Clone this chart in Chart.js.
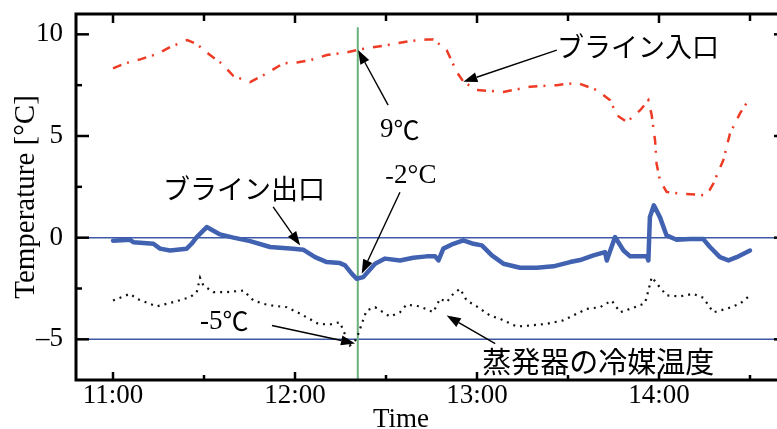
<!DOCTYPE html>
<html>
<head>
<meta charset="utf-8">
<script src="https://cdn.jsdelivr.net/npm/chart.js@4.4.1/dist/chart.umd.min.js"></script>
<style>
  html, body { margin: 0; padding: 0; background: #fff; overflow: hidden; }
  #wrap { width: 790px; height: 429px; }
</style>
</head>
<body>
<div id="wrap"><canvas id="chart" width="790" height="429"></canvas></div>
<script>
// time axis is minutes after 11:00
const inletTime = [0, 4, 9, 15, 19, 24.5, 27.6, 32, 35.8, 39.7, 45.2, 50.7, 56.1, 60.6, 65, 70.5, 77, 81.4, 89.1, 97.9,
    103.4, 105.6, 110, 113.3, 115.5, 119.9, 128.7, 137.5, 146.3, 152.9, 159.5, 163.9, 166.1, 169.4, 173.8, 176.5,
    177.6, 178.7, 179.2, 180.3, 182.5, 186.9, 195.7, 197.9, 201.2, 203.4, 206.7, 209.5];
const inletTemp = [8.33, 8.57, 8.77, 9.06, 9.39, 9.72, 9.52, 8.98, 8.57, 7.95, 7.65, 8.08, 8.57, 8.62, 8.73, 8.98, 9.11, 9.26, 9.44, 9.67,
    9.75, 9.75, 9.23, 8.16, 7.67, 7.26, 7.17, 7.42, 7.5, 7.62, 7.26, 6.76, 6.02, 5.69, 6.27, 6.76,
    6.02, 4.79, 3.64, 2.82, 2.25, 2.17, 2.08, 2.66, 3.81, 5.12, 6.11, 6.76];

const outletTime = [0, 5.6, 6.7, 13.3, 15.5, 18.8, 24.3, 25.9, 27.6, 30.9, 35.3, 39.7, 45.2, 51.8, 59.4, 62.7, 66.6, 70.5,
    74.8, 76.5, 78.7, 80.3, 82.5, 86.4, 89.7, 94.6, 99, 103.4, 106.2, 107.3, 108.9, 112.2, 115.5, 118.8, 121.6, 124.9,
    128.7, 134.2, 139.7, 145.2, 150.7, 154, 158.4, 162.2, 162.8, 165.5, 168.3, 170.5, 176, 176.5, 177, 178.3, 180.3,
    182.5, 185.8, 190.2, 194.6, 196.8, 200.1, 202.9, 205.6, 210];
const outletTemp = [-0.15, -0.1, -0.22, -0.3, -0.54, -0.63, -0.54, -0.3, 0.03, 0.52, 0.16, 0.0, -0.17, -0.46, -0.54, -0.59, -0.96, -1.2,
    -1.25, -1.36, -1.77, -2.02, -1.94, -1.28, -1.03, -1.12, -0.99, -0.92, -0.92, -1.12, -0.54, -0.3, -0.13, -0.3, -0.38, -0.87,
    -1.28, -1.48, -1.48, -1.41, -1.2, -1.1, -0.87, -0.71, -1.12, 0.03, -0.63, -0.92, -0.92, -1.12, 1.01, 1.59, 1.01,
    0.11, -0.1, -0.07, -0.07, -0.46, -0.96, -1.12, -0.96, -0.63];

const evapTime = [0, 5.6, 7.8, 14.3, 19.9, 25.4, 27.6, 28.7, 29.8, 33.1, 37.5, 43, 46.3, 49.6, 51.8, 57.3, 61.7, 67.7, 71.5,
    74.8, 76.4, 78.1, 80.3, 82, 83.6, 86.4, 91.3, 94.6, 96.8, 101.2, 105.6, 107.8, 110, 112.2, 114.4, 116.6, 119.9, 124.3,
    127.6, 133.1, 137.5, 142.9, 148.4, 152.9, 156.2, 160.6, 164.4, 167.2, 171.5, 175.4, 176.5, 177.6, 179.8, 182.5,
    186.9, 191.3, 194.6, 197.9, 202.3, 206.7, 210];
const evapTemp = [-3.09, -2.76, -3.0, -3.38, -3.17, -2.93, -2.68, -1.97, -2.35, -2.68, -2.68, -2.6, -3.09, -3.25, -3.33, -3.42, -3.74, -4.24, -4.27,
    -4.16, -4.73, -5.3, -4.98, -4.24, -3.58, -3.42, -3.88, -3.67, -3.29, -3.38, -3.67, -3.0, -3.17, -2.76, -2.51, -3.09, -3.38, -3.83,
    -3.99, -4.37, -4.32, -4.24, -4.07, -3.74, -3.5, -3.42, -3.09, -3.67, -3.45, -3.22, -2.6, -1.94, -2.35, -2.84,
    -2.89, -2.76, -2.96, -3.67, -3.5, -3.25, -2.84];

const xTickMinutes = [0, 60, 120, 180];
const xTickLabels = ['11:00', '12:00', '13:00', '14:00'];
const xMinorMinutes = [30, 90, 150, 210];
const yTickValues = [-5, 0, 5, 10];
const yMinorValues = [-2.5, 2.5, 7.5];
const refLevels = [0, -5];   // blue reference lines
const markerMinute = 80.7;   // green line, about 12:21
const markerTop = 10.35;

// labels with arrows, all in data units (minutes, degC)
const notes = [
    { parts: [['ブライン入口', 'jp']], at: [146.4, 9.37], tail: [146.3, 9.22], head: [115.5, 7.67] },
    { parts: [['ブライン出口', 'jp']], at: [16.5, 2.43], tail: [52.8, 1.51], head: [61.7, -0.38] },
    { parts: [['9', 'serif'], ['℃', 'sans']], at: [88, 5.29], tail: [90.7, 6.52], head: [80.8, 9.23] },
    { parts: [['-', 'sans'], ['2°C', 'serif']], at: [89.7, 3.06], tail: [94.6, 2.23], head: [82, -1.77] },
    { parts: [['-5', 'serif'], ['℃', 'sans']], at: [28.7, -4.12], tail: [52.4, -4.32], head: [79.8, -5.2] },
    { parts: [['蒸発器の冷媒温度', 'jp2']], at: [121.7, -6.09], tail: [126, -5.21], head: [110, -3.83] }
];

const SERIF = "'Liberation Serif', 'Times New Roman', serif";
const fonts = {
    jp: "27px 'Noto Sans CJK JP', sans-serif",
    jp2: "29px 'Noto Sans CJK JP', sans-serif",
    serif: "27px " + SERIF,
    sans: "26px 'Noto Sans CJK JP', sans-serif"
};

function toPoints(ts, vs) {
    return ts.map((t, i) => ({ x: t, y: vs[i] }));
}

function drawArrow(ctx, x1, y1, x2, y2) {
    const ang = Math.atan2(y2 - y1, x2 - x1);
    const len = 14, half = 5;
    const bx = x2 - len * Math.cos(ang), by = y2 - len * Math.sin(ang);
    ctx.beginPath();
    ctx.moveTo(x1, y1);
    ctx.lineTo(bx, by);
    ctx.stroke();
    ctx.beginPath();
    ctx.moveTo(x2, y2);
    ctx.lineTo(bx + half * Math.sin(ang), by - half * Math.cos(ang));
    ctx.lineTo(bx - half * Math.sin(ang), by + half * Math.cos(ang));
    ctx.closePath();
    ctx.fill();
}

const decor = {
    id: 'decor',
    beforeDatasetsDraw(chart) {
        const { ctx, chartArea: a, scales: { x, y } } = chart;
        ctx.save();
        ctx.strokeStyle = '#3e58a8';
        ctx.lineWidth = 1.5;
        refLevels.forEach(v => {
            const py = y.getPixelForValue(v);
            ctx.beginPath();
            ctx.moveTo(a.left, py);
            ctx.lineTo(a.right, py);
            ctx.stroke();
        });
        const gx = x.getPixelForValue(markerMinute);
        ctx.strokeStyle = '#6bb07c';
        ctx.lineWidth = 2;
        ctx.beginPath();
        ctx.moveTo(gx, y.getPixelForValue(markerTop));
        ctx.lineTo(gx, a.bottom);
        ctx.stroke();
        ctx.restore();
    },
    afterDatasetsDraw(chart) {
        const { ctx, chartArea: a, scales: { x, y } } = chart;
        ctx.save();
        ctx.strokeStyle = '#000';
        ctx.fillStyle = '#000';

        // frame
        ctx.lineWidth = 3;
        ctx.strokeRect(a.left, a.top, a.right - a.left, a.bottom - a.top);

        // inward ticks
        ctx.lineWidth = 2.5;
        const tick = (x1, y1, x2, y2) => { ctx.beginPath(); ctx.moveTo(x1, y1); ctx.lineTo(x2, y2); ctx.stroke(); };
        yTickValues.forEach(v => {
            const py = y.getPixelForValue(v);
            tick(a.left, py, a.left + 13, py);
            tick(a.right, py, a.right - 13, py);
        });
        yMinorValues.forEach(v => {
            const py = y.getPixelForValue(v);
            tick(a.left, py, a.left + 6, py);
            tick(a.right, py, a.right - 6, py);
        });
        xTickMinutes.forEach(m => {
            const px = x.getPixelForValue(m);
            tick(px, a.bottom, px, a.bottom - 8);
            tick(px, a.top, px, a.top + 9);
        });
        xMinorMinutes.forEach(m => {
            const px = x.getPixelForValue(m);
            tick(px, a.bottom, px, a.bottom - 5);
            tick(px, a.top, px, a.top + 7);
        });

        // annotations
        ctx.lineWidth = 1.4;
        ctx.textBaseline = 'middle';
        ctx.textAlign = 'left';
        notes.forEach(n => {
            drawArrow(ctx, x.getPixelForValue(n.tail[0]), y.getPixelForValue(n.tail[1]),
                x.getPixelForValue(n.head[0]), y.getPixelForValue(n.head[1]));
            let px = x.getPixelForValue(n.at[0]);
            const py = y.getPixelForValue(n.at[1]);
            n.parts.forEach(([text, f]) => {
                ctx.font = fonts[f];
                ctx.fillText(text, px, py);
                px += ctx.measureText(text).width;
            });
        });

        // x axis title
        ctx.font = '27px ' + SERIF;
        ctx.textAlign = 'center';
        ctx.fillText('Time', 401, 420);
        ctx.restore();
    }
};

new Chart(document.getElementById('chart'), {
    type: 'line',
    data: {
        datasets: [
            {
                label: 'ブライン出口',
                data: toPoints(outletTime, outletTemp),
                borderColor: '#4161b1',
                borderWidth: 4.5,
                borderJoinStyle: 'round',
                borderCapStyle: 'round',
                pointRadius: 0,
                order: 1
            },
            {
                label: 'ブライン入口',
                data: toPoints(inletTime, inletTemp),
                borderColor: '#ee3b25',
                borderWidth: 2.5,
                borderDash: [9, 6, 2, 9],
                pointRadius: 0,
                order: 2
            },
            {
                label: '蒸発器の冷媒温度',
                data: toPoints(evapTime, evapTemp),
                borderColor: '#111',
                borderWidth: 2.2,
                borderDash: [2, 5],
                pointRadius: 0,
                order: 3
            }
        ]
    },
    options: {
        responsive: false,
        animation: false,
        devicePixelRatio: 1,
        layout: { padding: { top: 14, right: 3, left: 0, bottom: 0 } },
        plugins: { legend: { display: false }, tooltip: { enabled: false } },
        scales: {
            x: {
                type: 'linear',
                min: -12.2,
                max: 222.2,
                afterBuildTicks: s => { s.ticks = xTickMinutes.map(v => ({ value: v })); },
                afterFit: s => { s.height = 49; s.paddingLeft = 0; s.paddingRight = 0; },
                grid: { display: false, drawTicks: false },
                border: { display: false },
                ticks: {
                    autoSkip: false,
                    maxRotation: 0,
                    padding: 0,
                    color: '#000',
                    font: { family: SERIF, size: 27 },
                    callback: v => xTickLabels[xTickMinutes.indexOf(v)]
                }
            },
            y: {
                type: 'linear',
                min: -7,
                max: 11,
                afterBuildTicks: s => { s.ticks = yTickValues.map(v => ({ value: v })); },
                afterFit: s => { s.width = 76; s.paddingTop = 0; s.paddingBottom = 0; },
                grid: { display: false, drawTicks: false },
                border: { display: false },
                title: {
                    display: true,
                    text: 'Temperature [°C]',
                    color: '#000',
                    font: { family: SERIF, size: 29, lineHeight: 1 },
                    padding: { top: 12, bottom: 0 }
                },
                ticks: {
                    padding: 13,
                    color: '#000',
                    font: { family: SERIF, size: 27 },
                    callback: v => (v < 0 ? '–' + Math.abs(v) : String(v))
                }
            }
        }
    },
    plugins: [decor]
});
</script>
</body>
</html>
